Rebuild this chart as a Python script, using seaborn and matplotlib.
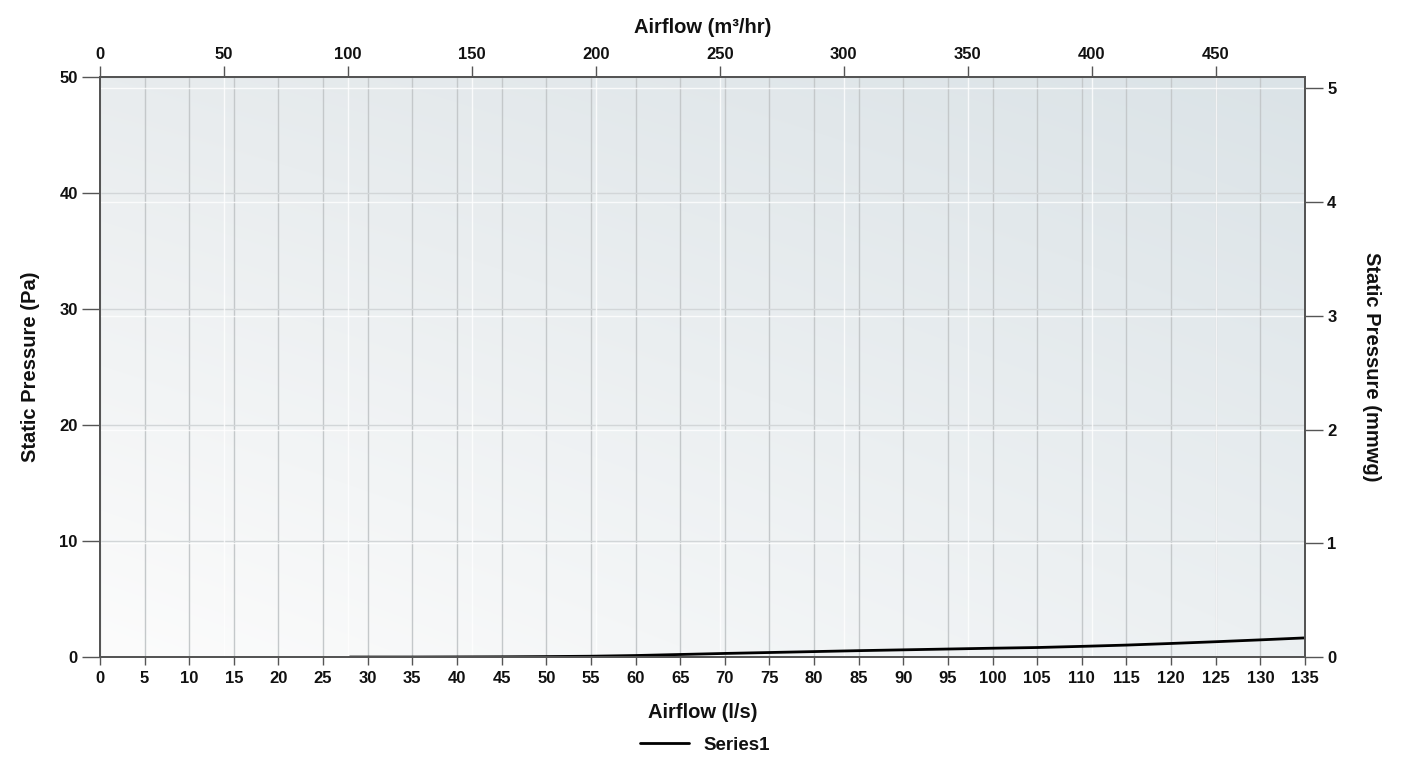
import numpy as np
import pandas as pd
import matplotlib
matplotlib.use('Agg')
import matplotlib.pyplot as plt
import seaborn as sns

# --- data ---
airflow_ls = [28, 35, 40, 45, 50, 55, 60, 65, 70, 75, 80, 85, 90, 95, 100,
              105, 110, 115, 120, 125, 130, 135]
pressure_pa = [0.0, 0.0, 0.01, 0.02, 0.04, 0.07, 0.13, 0.22, 0.31, 0.39, 0.47,
               0.55, 0.62, 0.69, 0.76, 0.82, 0.92, 1.03, 1.17, 1.32, 1.48, 1.65]

bottom_ticks = list(range(0, 136, 5))          # l/s
top_ticks = list(range(0, 451, 50))            # m3/hr
left_ticks = [0, 10, 20, 30, 40, 50]           # Pa
right_ticks = [0, 1, 2, 3, 4, 5]               # mmwg

LS_TO_M3HR = 3.6
PA_PER_MMWG = 9.80665

df = pd.DataFrame({'Airflow': airflow_ls, 'Pressure': pressure_pa})

sns.set_style('white')
plt.rcParams['font.family'] = ['Liberation Sans', 'DejaVu Sans']
plt.rcParams['font.weight'] = 'bold'
plt.rcParams['text.color'] = '#111111'
plt.rcParams['axes.labelcolor'] = '#111111'
plt.rcParams['xtick.color'] = '#111111'
plt.rcParams['ytick.color'] = '#111111'

fig = plt.figure(figsize=(14.1, 7.58), dpi=100)
ax = fig.add_axes([0.0709, 0.1332, 0.8546, 0.7652])

# gradient background (white bottom-left -> blue grey top-right)
c_bl = np.array([252, 252, 252]) / 255
c_br = np.array([236, 240, 242]) / 255
c_tl = np.array([232, 236, 238]) / 255
c_tr = np.array([219, 227, 231]) / 255
u = np.linspace(0, 1, 200)[None, :, None]
v = np.linspace(1, 0, 200)[:, None, None]
grad = (c_bl * (1 - u) * (1 - v) + c_br * u * (1 - v)
        + c_tl * (1 - u) * v + c_tr * u * v)
ax.imshow(grad, extent=[0, 1, 0, 1], transform=ax.transAxes,
          aspect='auto', zorder=0, interpolation='bilinear')

ax.set_xlim(0, 135)
ax.set_ylim(0, 50)

# grid lines: grey for primary axes, white for secondary
for t in bottom_ticks:
    ax.axvline(t, color='#c4c8ca', lw=1, zorder=1)
for t in left_ticks:
    ax.axhline(t, color='#d2d6d8', lw=1, zorder=1)
for t in top_ticks:
    ax.axvline(t / LS_TO_M3HR, color='white', lw=1, alpha=0.8, zorder=1)
for t in right_ticks:
    ax.axhline(t * PA_PER_MMWG, color='white', lw=1, alpha=0.8, zorder=1)

sns.lineplot(data=df, x='Airflow', y='Pressure', ax=ax, color='black',
             lw=2, label='Series1', zorder=3)

ax.set_xticks(bottom_ticks)
ax.set_yticks(left_ticks)
ax.tick_params(axis='x', direction='out', length=6, width=1, color='#555555',
               labelsize=12, pad=4)
ax.tick_params(axis='y', direction='out', length=13, width=1, color='#555555',
               labelsize=12, pad=3)
for lab in ax.get_xticklabels() + ax.get_yticklabels():
    lab.set_fontweight('bold')
ax.set_xlabel('Airflow (l/s)', fontsize=14.5, fontweight='bold', labelpad=12)
ax.set_ylabel('Static Pressure (Pa)', fontsize=14.5, fontweight='bold', labelpad=14)

for s in ax.spines.values():
    s.set_color('#555555')
    s.set_linewidth(1.2)

# top axis: m3/hr
axt = ax.twiny()
axt.set_xlim(0, 135 * LS_TO_M3HR)
axt.set_xticks(top_ticks)
axt.tick_params(axis='x', direction='out', length=8, width=1, color='#555555',
                labelsize=12, pad=3)
for lab in axt.get_xticklabels():
    lab.set_fontweight('bold')
axt.set_xlabel('Airflow (m³/hr)', fontsize=14.5, fontweight='bold', labelpad=10)

# right axis: mmwg
axr = ax.twinx()
axr.set_ylim(0, 50 / PA_PER_MMWG)
axr.set_yticks(right_ticks)
axr.tick_params(axis='y', direction='out', length=13, width=1, color='#555555',
                labelsize=12, pad=3)
for lab in axr.get_yticklabels():
    lab.set_fontweight('bold')
axr.set_ylabel('Static Pressure (mmwg)', fontsize=14.5, fontweight='bold',
               rotation=270, labelpad=32)

for a in (axt, axr):
    a.grid(False)
    for s in a.spines.values():
        s.set_color('#555555')
        s.set_linewidth(1.2)

ax.legend_.remove()
handles, labels = ax.get_legend_handles_labels()
fig.legend(handles, labels, loc='center', bbox_to_anchor=(0.5, 0.017),
           frameon=False, prop={'size': 13.5, 'weight': 'bold'},
           handlelength=2.6, handletextpad=0.8)

fig.savefig('out.png', dpi=100)
